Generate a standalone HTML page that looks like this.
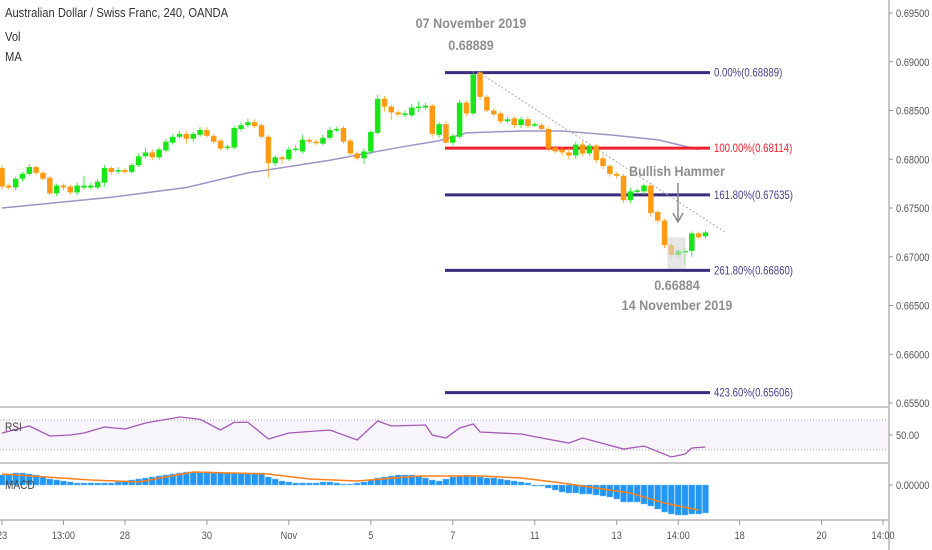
<!DOCTYPE html>
<html><head><meta charset="utf-8"><style>
html,body{margin:0;padding:0;background:#fff;width:932px;height:550px;overflow:hidden}
svg{display:block;font-family:"Liberation Sans Narrow","Liberation Sans",sans-serif}
</style></head><body>
<svg id="chart" width="932" height="550" viewBox="0 0 932 550"></svg>
<script>
const opens=[.6791,.6773,.6771,.6780,.6785,.6792,.6786,.6781,.6765,.6773,.6772,.6766,.6771,.6771,.6771,.6776,.6791,.6788,.6789,.6787,.6794,.6803,.6807,.6802,.6809,.6817,.6823,.6826,.6821,.6825,.6830,.6824,.6819,.6812,.6812,.6831,.6835,.6838,.6835,.6823,.6796,.6802,.6800,.6810,.6808,.6820,.6818,.6816,.6822,.6830,.6832,.6819,.6806,.6801,.6808,.6827,.6862,.6854,.6848,.6846,.6845,.6853,.6853,.6855,.6825,.6836,.6817,.6823,.6858,.6847,.6889,.6864,.6850,.6847,.6839,.6842,.6835,.6841,.6835,.6835,.6831,.6812,.6810,.6807,.6804,.6815,.6806,.6814,.6801,.6793,.6785,.6783,.6758,.6767,.6767,.6773,.6746,.6737,.6712,.6702,.6705,.6706,.6724,.6721];
const closes=[.6772,.6771,.6780,.6785,.6792,.6786,.6780,.6765,.6773,.6771,.6766,.6773,.6773,.6773,.6777,.6791,.6787,.6789,.6787,.6794,.6803,.6807,.6802,.6810,.6818,.6823,.6826,.6821,.6826,.6830,.6824,.6818,.6811,.6813,.6832,.6835,.6838,.6834,.6823,.6796,.6802,.6800,.6810,.6811,.6820,.6818,.6817,.6822,.6830,.6831,.6818,.6806,.6801,.6808,.6828,.6862,.6854,.6848,.6846,.6847,.6853,.6854,.6855,.6826,.6836,.6817,.6824,.6858,.6847,.6887,.6864,.6850,.6846,.6839,.6841,.6835,.6841,.6834,.6836,.6831,.6811,.6808,.6807,.6804,.6815,.6806,.6814,.6799,.6793,.6785,.6783,.6758,.6767,.6768,.6773,.6745,.6737,.6712,.6702,.6706,.6706,.6724,.6720,.6725];
const wickUp=[3,2,2,2,3,2,2,2,2,2,2,3,10,3,3,3,2,3,2,2,3,5,3,2,3,3,3,3,2,3,3,2,2,2,2,3,4,3,2,2,2,2,3,4,5,2,2,3,3,2,2,2,2,3,2,4,3,2,2,3,4,5,3,2,2,3,2,3,2,3,2,2,2,2,3,2,3,3,2,2,2,2,3,5,3,3,2,2,3,2,2,2,4,2,2,3,2,2,2,2,3,2,2,2];
const wickDn=[3,2,3,3,2,2,2,2,3,3,2,3,2,2,2,4,3,3,2,2,2,2,3,3,2,2,2,5,3,2,2,2,2,3,2,2,2,2,2,15,3,5,2,2,2,2,3,2,2,2,2,2,2,6,3,2,5,8,2,3,2,5,2,3,3,2,3,2,3,2,3,2,2,2,2,3,3,2,2,3,3,2,3,4,4,3,3,3,3,3,3,3,3,3,3,4,3,3,3,3,14,6,2,2];
const maIdx=[0,16,27,36,48,58,64,68,76,82,89,96,102];
const maVal=[.6750,.6761,.6771,.6786,.6799,.6812,.6819,.6827,.6829,.6829,.6825,.6820,.6810];
const rsiIdx=[0,4,7,10,12,15,18,21,26,29,32,34,36,39,42,44,48,52,55,57,62,63,65,67,69,70,76,79,83,85,91,94,98,100,101,103];
const rsiVal=[52.7,62,48.7,50,52.7,60.7,58,66,74,71,56.7,67,67,44.7,52.7,54,56.7,43.3,68.7,62,63.3,50,46,59.3,64.7,54,51.3,46,39.3,46,31.3,35.3,20.7,24.7,32.7,34];
const macdHist=[10,11,12,12,11,10,8,6,5,4,3,2,2,2,2,2,2,3,4,5,6,7,8,9,10,11,12,13,13,13,13,12,12,12,12,12,12,12,12,8,6,4,3,2,2,2,2,3,3,2,1,1,2,3,5,7,8,9,10,10,10,9,7,5,4,6,8,9,10,9,8,7,7,6,5,4,3,2,0,-1,-3,-5,-7,-8,-8,-9,-9,-10,-11,-12,-14,-17,-17,-17,-19,-21,-24,-27,-29,-30,-30,-29,-29,-28];
const sigIdx=[0,13,20,28,39,45,52,61,70,76,82,87,92,97,102];
const sigVal=[11,5,3,13,11,6,4,9,9,7,2,-3,-8,-18,-25];
const fibPct=["0.00%","100.00%","161.80%","261.80%","423.60%"];
const fibVal=[0.68889,0.68114,0.67635,0.66860,0.65606];
const priceTicks=[0.695,0.69,0.685,0.68,0.675,0.67,0.665,0.66,0.655];
const timeLabels=["23","13:00","28","30","Nov","5","7","11","13","14:00","18","20","14:00"];
const timeIdx=[0,9,18,30,42,54,66,78,90,99,108,120,129];

const NS="http://www.w3.org/2000/svg";
const svg=document.getElementById('chart');
const xI=i=>2+i*6.83;
const yP=p=>13+(0.695-p)*9750;
const yR=r=>435-(r-50)*0.75;
const yM=v=>485-v;
const condensed=[];
function mk(tag,at,parent){const e=document.createElementNS(NS,tag);for(const k in at)e.setAttribute(k,at[k]);(parent||svg).appendChild(e);return e;}
function txt(s,x,y,at,f){const e=mk('text',Object.assign({x:x,y:y},at));e.textContent=s;condensed.push([e,f||0.84]);return e;}

let e;
e=mk('rect',{x:0,y:420,width:888,height:30,fill:'#f8f4fb'});

mk('line',{x1:0,y1:420,x2:888,y2:420,stroke:'#aaa','stroke-dasharray':'1,2'});
mk('line',{x1:0,y1:450,x2:888,y2:450,stroke:'#aaa','stroke-dasharray':'1,2'});
[407,463,520].forEach(y=>{const l=mk('line',{x1:0,y1:y,x2:890,y2:y,stroke:'#c8c8c8','stroke-width':2});});
e=mk('line',{x1:889,y1:0,x2:889,y2:550,stroke:'#c8c8c8','stroke-width':2});


priceTicks.forEach(p=>{const y=yP(p);mk('line',{x1:889,y1:y,x2:893,y2:y,stroke:'#999'});
const t=txt(p.toFixed(5),896,y+4,{'font-size':11,fill:'#555'});});
mk('line',{x1:889,y1:435,x2:893,y2:435,stroke:'#999'});
e=txt('50.00',896,439,{'font-size':11,fill:'#555'});
mk('line',{x1:889,y1:485,x2:893,y2:485,stroke:'#999'});
e=txt('0.00000',896,489,{'font-size':11,fill:'#555'});

timeLabels.forEach((s,k)=>{const x=xI(timeIdx[k]);mk('line',{x1:x,y1:520,x2:x,y2:525,stroke:'#999'});
const t=txt(s,x,539,{'font-size':11,fill:'#555','text-anchor':'middle'});});

let d='';maIdx.forEach((i,k)=>{d+=(k?'L':'M')+xI(i)+','+yP(maVal[k]);});
e=mk('path',{d:d,fill:'none',stroke:'#9e94c8','stroke-width':1.5});


fibVal.forEach((v,k)=>{const y=yP(v);const red=k===1;
const l=mk('line',{x1:445,y1:y,x2:710,y2:y,stroke:red?'#f2202e':'#3a2d7d','stroke-width':3});

const t=txt(fibPct[k]+'('+v.toFixed(5)+')',714,y+4,{'font-size':12,fill:red?'#f2202e':'#4a3f8f'},0.8);
});

opens.forEach((o,i)=>{const c=closes[i];const up=c>=o;const col=up?'#19e619':'#ff9a12';
const hi=Math.max(o,c)+wickUp[i]*0.0001,lo=Math.min(o,c)-wickDn[i]*0.0001;const x=xI(i);
const g=mk('g',{});

mk('line',{x1:x,y1:yP(hi),x2:x,y2:yP(lo),stroke:col,'stroke-width':1,opacity:0.8},g);
const yt=yP(Math.max(o,c)),yb=yP(Math.min(o,c));
mk('rect',{x:x-2.75,y:yt,width:5.5,height:Math.max(1.5,yb-yt),fill:col},g);});

e=mk('line',{x1:478,y1:72,x2:725,y2:232,stroke:'#aaa','stroke-dasharray':'2,2'});

e=mk('rect',{x:668,y:238,width:17,height:30,fill:'#d8d8d8',opacity:0.6,stroke:'#ccc'});

e=mk('path',{d:'M678,183L678,221M673,213L678,222L683,213',stroke:'#888','stroke-width':1.5,fill:'none'});

const ann=[['Bullish Hammer',677,176,'bullish-hammer-label'],['07 November 2019',471,28,'high-date-label'],['0.68889',471,50,'high-price-label'],['0.66884',677,290,'low-price-label'],['14 November 2019',677,310,'low-date-label']];
ann.forEach(a=>{const t=txt(a[0],a[1],a[2],{'font-size':14,fill:'#8e8e8e','text-anchor':'middle','font-weight':'bold'},0.9);});

[['Australian Dollar / Swiss Franc, 240, OANDA',17,'symbol-title'],['Vol',41,'volume-legend'],['MA',61,'ma-legend']].forEach(a=>{const t=txt(a[0],5,a[1],{'font-size':13,fill:'#333'},0.86);});

d='';rsiIdx.forEach((i,k)=>{d+=(k?'L':'M')+xI(i)+','+yR(rsiVal[k]);});
e=mk('path',{d:d,fill:'none',stroke:'#a658b8','stroke-width':1.3});

e=txt('RSI',5,431,{'font-size':12,fill:'#444'});

macdHist.forEach((v,i)=>{const x=xI(i);const r=mk('rect',{x:x-3,y:Math.min(yM(v),485),width:6,height:Math.max(1,Math.abs(v)),fill:'#2196f3',stroke:'#7cc0f7','stroke-width':0.5});
});
d='';sigIdx.forEach((i,k)=>{d+=(k?'L':'M')+xI(i)+','+yM(sigVal[k]);});
e=mk('path',{d:d,fill:'none',stroke:'#ff7f1a','stroke-width':1.5});

e=txt('MACD',5,489,{'font-size':12,fill:'#444'});

condensed.forEach(([t,f])=>{try{const w=t.getComputedTextLength();if(w>0){t.setAttribute('textLength',(w*f).toFixed(1));t.setAttribute('lengthAdjust','spacingAndGlyphs');}}catch(err){}});
</script>
</body></html>
